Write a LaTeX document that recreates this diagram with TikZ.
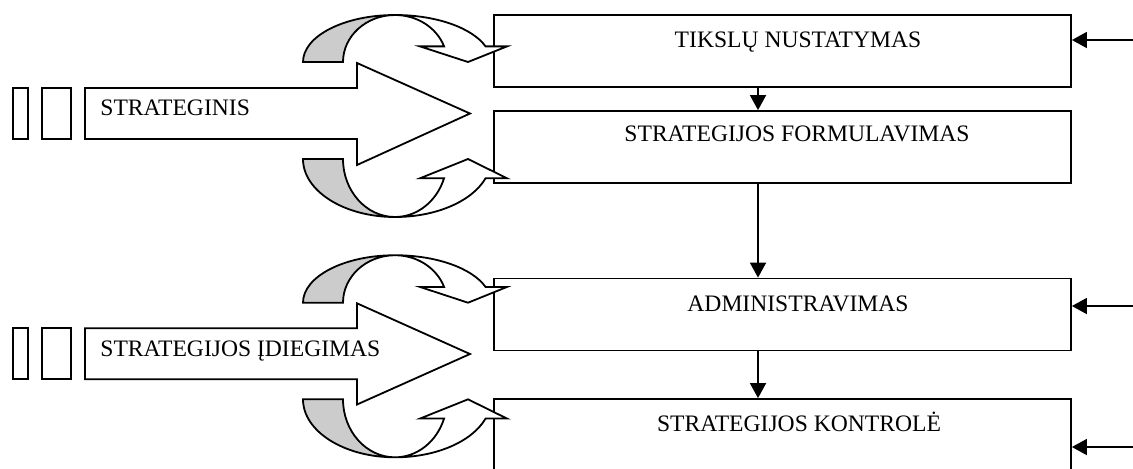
\documentclass[tikz,border=0pt]{standalone}
\usepackage{fontspec}
\setmainfont{Liberation Serif}
\usetikzlibrary{arrows.meta}
\tikzset{
  ln/.style={line width=0.9pt},
  boxnode/.style={draw, ln, minimum width=288.5pt, minimum height=36pt, inner sep=0pt},
  lbl/.style={inner sep=0pt, font=\fontsize{11.8}{14}\selectfont},
  arr/.style={ln, -{Triangle[width=8pt,length=7.5pt]}},
  bigarrow/.style={draw, ln, fill=white, line join=miter},
  greypart/.style={draw, ln, fill=gray!40},
  whitepart/.style={draw, ln, fill=white, line join=miter},
}
\newcommand{\curvarrow}[2]{%
  \begin{scope}[shift={#1}, yscale=#2]
    \path[greypart] (-92,0) arc[start angle=180, end angle=270, x radius=92, y radius=47]
      arc[start angle=270, end angle=180, x radius=52, y radius=47] -- cycle;
    \path[whitepart] (0,-47) arc[start angle=270, end angle=340.6, x radius=96, y radius=47]
      -- (112,-15.61) -- (73,0) -- (25,-15.61) -- (49.05,-15.61)
      arc[start angle=340.6, end angle=270, x radius=52, y radius=47] -- cycle;
  \end{scope}}
\begin{document}
\begin{tikzpicture}[x=0.5pt, y=-0.5pt]
\useasboundingbox (0,0) rectangle (1133,468);
\clip (0,0) rectangle (1133,468);
% boxes
\node[boxnode] (b1) at (782.5,51) {};
\node[boxnode] (b2) at (782.5,147) {};
\node[boxnode] (b3) at (782.5,314.5) {};
\node[boxnode] (b4) at (782.5,435) {};
\node[lbl, anchor=base] (t1) at (798,47.3) {TIKSLŲ NUSTATYMAS};
\node[lbl, anchor=base] (t2) at (797,141.7) {STRATEGIJOS FORMULAVIMAS};
\node[lbl, anchor=base] (t3) at (798,311) {ADMINISTRAVIMAS};
\node[lbl, anchor=base] (t4) at (799,431.7) {STRATEGIJOS KONTROLĖ};
% vertical connectors
\coordinate (colx) at (758,0);
\draw[arr] (b1.south -| colx) -- (b2.north -| colx);
\draw[arr] (b2.south -| colx) -- (b3.north -| colx);
\draw[arr] (b3.south -| colx) -- (b4.north -| colx);
% right inputs
\coordinate (r1) at (1133,40);
\coordinate (r3) at (1133,306);
\coordinate (r4) at (1133,447);
\draw[arr] (r1) -- (r1 -| b1.east);
\draw[arr] (r3) -- (r3 -| b3.east);
\draw[arr] (r4) -- (r4 -| b4.east);
% curved arrows
\curvarrow{(395,62)}{1}
\curvarrow{(395,159)}{-1.234}
\curvarrow{(395,302.7)}{1.01}
\curvarrow{(395,399.3)}{-1.234}
% big arrows
\draw[ln] (13.3,88) rectangle (28.3,139);
\draw[ln] (41.7,88) rectangle (71,139);
\path[bigarrow] (85,88) -- (357,88) -- (357,63) -- (470,113.5) -- (357,165) -- (357,139) -- (85,139) -- cycle;
\node[lbl, anchor=base west] (s1) at (100,115.7) {STRATEGINIS};
\draw[ln] (13.3,328.3) rectangle (28.3,379.3);
\draw[ln] (41.7,328.3) rectangle (71,379.3);
\path[bigarrow] (85,328.3) -- (357,328.3) -- (357,303.3) -- (470,354) -- (357,404.5) -- (357,379.3) -- (85,379.3) -- cycle;
\node[lbl, anchor=base west] (s2) at (100,356) {STRATEGIJOS ĮDIEGIMAS};
\end{tikzpicture}
\end{document}
